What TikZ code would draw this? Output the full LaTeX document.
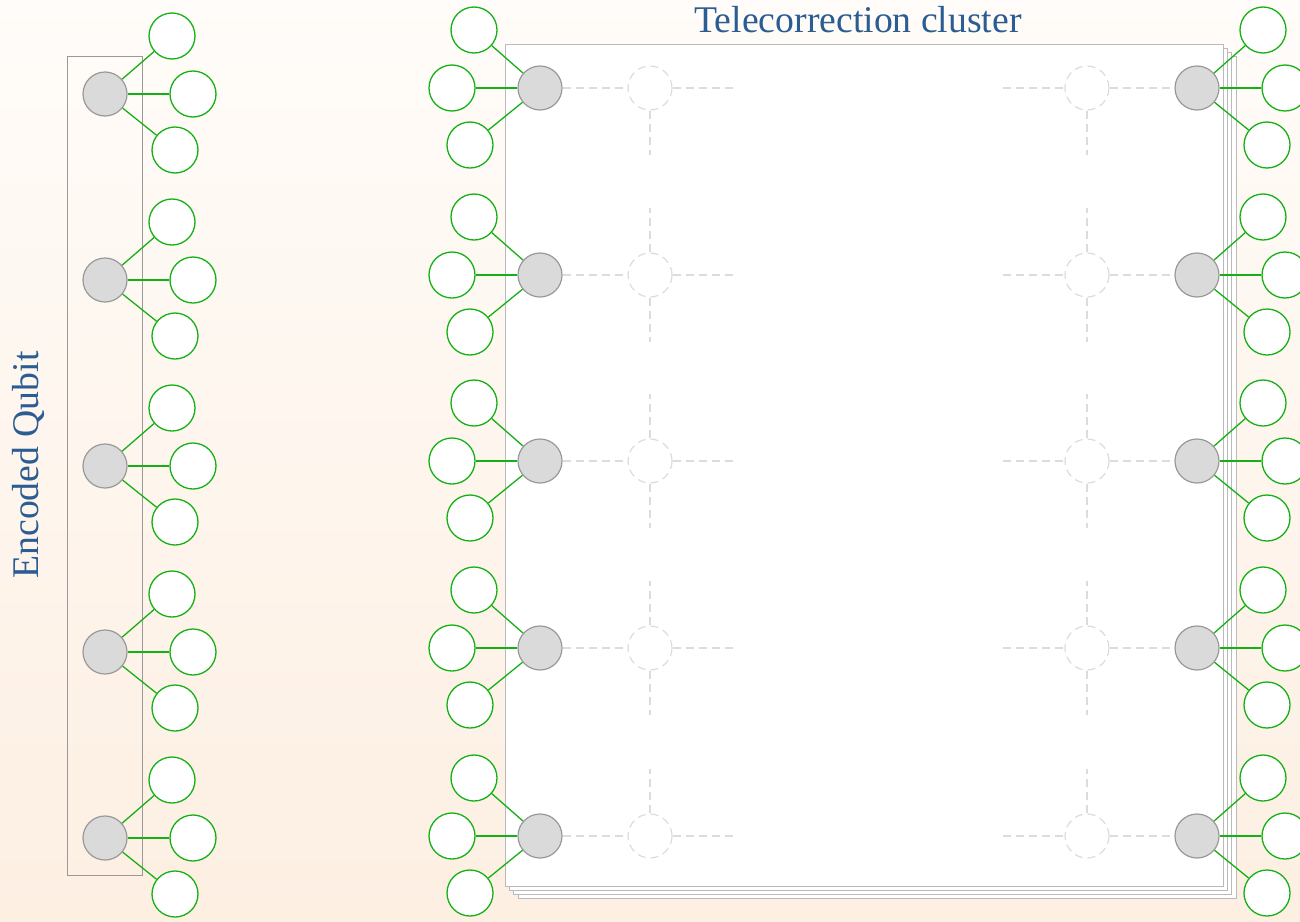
\documentclass[tikz,border=0pt]{standalone}
\usepackage{fontspec}
\setmainfont{Liberation Serif}
\usepackage{xcolor}
\usepackage{tikz}
\usetikzlibrary{positioning,fit,backgrounds}
\definecolor{bgtop}{HTML}{FFFCF9}
\definecolor{bgbot}{HTML}{FDEFE2}
\definecolor{inkblue}{HTML}{2B5C92}
\definecolor{leafgreen}{HTML}{14B014}
\definecolor{qgray}{HTML}{DADADA}
\definecolor{ghostgray}{HTML}{DCDCDC}

\begin{document}
\begin{tikzpicture}[
  x=1pt, y=-1pt,
  qnode/.style ={circle, draw=black!40, fill=qgray, line width=1.2pt,
                 minimum size=44pt, inner sep=0pt},
  leaf/.style  ={circle, draw=leafgreen, fill=white, line width=1.3pt,
                 minimum size=46pt, inner sep=0pt},
  ghost/.style ={circle, draw=ghostgray, line width=1.2pt,
                 dash pattern=on 8pt off 5pt, minimum size=44pt, inner sep=0pt},
  link/.style  ={draw=leafgreen, line width=1.3pt},
  gline/.style ={draw=ghostgray, line width=1.2pt, dash pattern=on 8pt off 5pt},
  sheet/.style ={draw=black!27, fill=white, line width=1pt,
                 minimum width=718pt, minimum height=842pt, inner sep=0pt},
  caption/.style={text=inkblue, font=\fontsize{37.7}{40}\selectfont, inner sep=0pt}
]
\useasboundingbox (0,0) rectangle (1300,921);
\begin{scope}[on background layer]
  \shade[top color=bgtop, bottom color=bgbot] (0,0) rectangle (1300,921);
\end{scope}

% encoded qubit column
\foreach \r [count=\i] in {94,280,466,652,838} {
  \node[qnode] (e\i) at (105,\r) {};
  \node[leaf] (eu\i) at ([shift={(67,-58)}]e\i) {};
  \node[leaf] (em\i) at ([shift={(88,0)}]e\i) {};
  \node[leaf] (ed\i) at ([shift={(70,56)}]e\i) {};
  \draw[link] (e\i) -- (eu\i);
  \draw[link] (e\i) -- (em\i);
  \draw[link] (e\i) -- (ed\i);
}
\begin{scope}[on background layer]
  \node[draw=black!40, line width=1.2pt, inner sep=15pt, fit=(e1)(e5)] (enc) {};
\end{scope}
\node[caption, rotate=90] (enclabel) at (28,465) {Encoded Qubit};

% telecorrection cluster
\foreach \k in {3,2,1}
  \node[sheet] (back\k) at (864.3+4.3*\k,465+4.3*\k) {};
\node[sheet] (clu) at (864.3,465) {};
\node[caption, anchor=base] (title) at (858,32) {Telecorrection cluster};

\foreach \r [count=\i] in {88,275,461,648,836} {
  \node[qnode] (a\i) at (540,\r) {};
  \node[qnode] (b\i) at (1197,\r) {};
  \node[ghost] (g\i) at (650,\r) {};
  \node[ghost] (h\i) at (1087,\r) {};
  % ghost links
  \coordinate (ga\i) at (733,\r);
  \coordinate (hb\i) at (1003,\r);
  \draw[gline] (a\i) -- (g\i);
  \draw[gline] (g\i) -- (ga\i);
  \draw[gline] (hb\i) -- (h\i);
  \draw[gline] (h\i) -- (b\i);
  \ifnum\i<5
    \coordinate (gd\i) at ([yshift=-44pt]g\i.south);
    \coordinate (hd\i) at ([yshift=-44pt]h\i.south);
    \draw[gline] (g\i) -- (gd\i);
    \draw[gline] (h\i) -- (hd\i);
  \fi
  \ifnum\i>1
    \coordinate (gu\i) at ([yshift=44pt]g\i.north);
    \coordinate (hu\i) at ([yshift=44pt]h\i.north);
    \draw[gline] (g\i) -- (gu\i);
    \draw[gline] (h\i) -- (hu\i);
  \fi
  % inputs
  \node[leaf] (au\i) at ([shift={(-66,-58)}]a\i) {};
  \node[leaf] (am\i) at ([shift={(-88,0)}]a\i) {};
  \node[leaf] (ad\i) at ([shift={(-70,57)}]a\i) {};
  \draw[link] (a\i) -- (au\i);
  \draw[link] (a\i) -- (am\i);
  \draw[link] (a\i) -- (ad\i);
  % outputs
  \node[leaf] (bu\i) at ([shift={(66,-58)}]b\i) {};
  \node[leaf] (bm\i) at ([shift={(88,0)}]b\i) {};
  \node[leaf] (bd\i) at ([shift={(70,57)}]b\i) {};
  \draw[link] (b\i) -- (bu\i);
  \draw[link] (b\i) -- (bm\i);
  \draw[link] (b\i) -- (bd\i);
}
\end{tikzpicture}
\end{document}
